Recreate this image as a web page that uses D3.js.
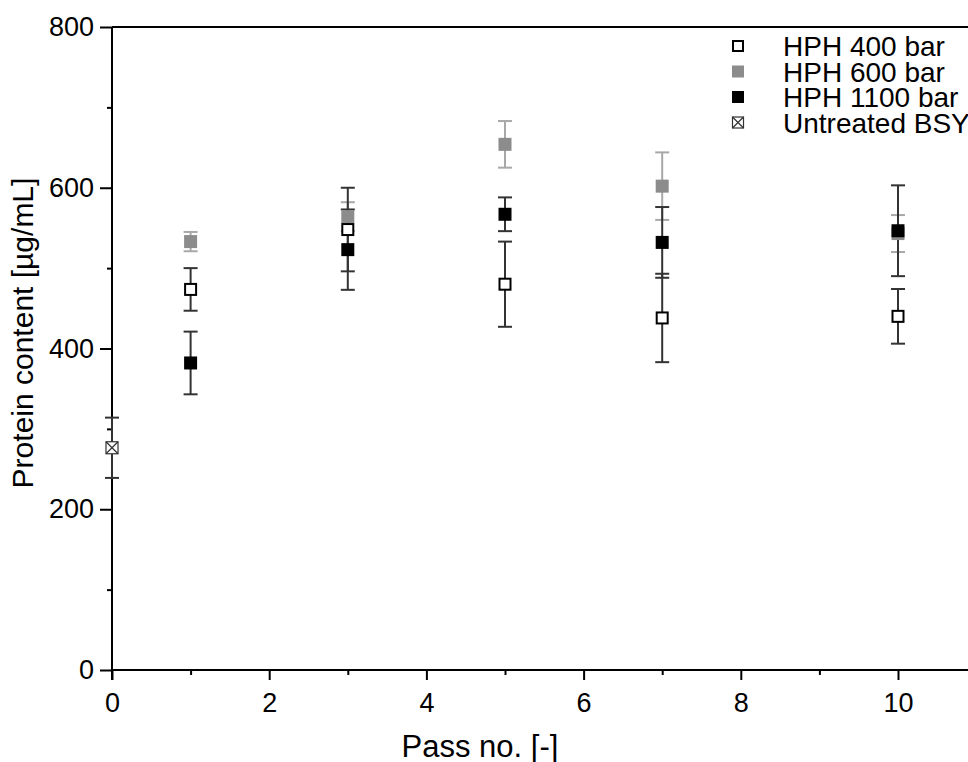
<!DOCTYPE html>
<html>
<head>
<meta charset="utf-8">
<script src="https://cdn.jsdelivr.net/npm/d3@7"></script>
<style>
  body { margin: 0; background: #fff; }
  text { font-family: "Liberation Sans", Arial, sans-serif; fill: #000; }
</style>
</head>
<body>
<div id="chart"></div>
<script>
// pass numbers and protein content (µg/mL), means and error
var passes = [1, 3, 5, 7, 10];
var hph400 = [473.5, 548, 480, 438, 440];
var err400 = [26.5, 52, 53, 55, 34];
var hph600 = [533, 564, 654, 602, 543];
var err600 = [12, 18, 29, 42, 23];
var hph1100 = [382, 523, 567, 532, 546.5];
var err1100 = [39, 50, 21, 44, 56.5];
var untreatedPass = [0];
var untreated = [276.5];
var errUntreated = [37.5];

var xTicks = [0, 2, 4, 6, 8, 10];
var yTicks = [0, 200, 400, 600, 800];
var legendLabels = ['HPH 400 bar', 'HPH 600 bar', 'HPH 1100 bar', 'Untreated BSY'];

var svg = d3.select('#chart').append('svg')
        .attr('width', 968)
        .attr('height', 762),
    margin = {top: 27, left: 112},
    height = 643;

var x = d3.scaleLinear().domain([0, 11]).range([margin.left, margin.left + 11 * 78.6]),
    y = d3.scaleLinear().domain([0, 800]).range([margin.top + height, margin.top]);

// top frame line
svg.append('line')
    .attr('x1', x(0)).attr('x2', 968)
    .attr('y1', y(800)).attr('y2', y(800))
    .attr('stroke', '#000').attr('stroke-width', 2);

// minor ticks
var xAxisMinor = d3.axisBottom(x).tickValues([1, 3, 5, 7, 9]).tickSize(5).tickFormat('');
var yAxisMinor = d3.axisLeft(y).tickValues([100, 300, 500, 700]).tickSize(5).tickFormat('');

svg.append('g')
    .attr('transform', 'translate(0,' + y(0) + ')')
    .call(xAxisMinor)
    .call(function(g) { g.select('.domain').remove(); })
    .selectAll('line').attr('stroke-width', 2);

svg.append('g')
    .attr('transform', 'translate(' + x(0) + ',0)')
    .call(yAxisMinor)
    .call(function(g) { g.select('.domain').remove(); })
    .selectAll('line').attr('stroke-width', 2);

var gx = svg.append('g')
    .attr('transform', 'translate(0,' + y(0) + ')')
    .call(d3.axisBottom(x).tickValues(xTicks).tickSize(10).tickSizeOuter(0).tickPadding(13));
gx.select('.domain').attr('d', 'M' + x(0) + ',0H968').attr('stroke-width', 2);
gx.selectAll('line').attr('stroke-width', 2);
gx.selectAll('text').attr('font-size', 27).style('font-family', '"Liberation Sans", Arial, sans-serif');

var gy = svg.append('g')
    .attr('transform', 'translate(' + x(0) + ',0)')
    .call(d3.axisLeft(y).tickValues(yTicks).tickSize(12).tickSizeOuter(0).tickPadding(6));
gy.select('.domain').attr('d', 'M0,' + y(800) + 'V' + (y(0) + 10)).attr('stroke-width', 2);
gy.selectAll('line').attr('stroke-width', 2);
gy.selectAll('text').attr('font-size', 27).style('font-family', '"Liberation Sans", Arial, sans-serif');

svg.append('text')
    .attr('x', 480).attr('y', 757)
    .attr('text-anchor', 'middle')
    .attr('font-size', 31)
    .text('Pass no. [-]');

svg.append('text')
    .attr('transform', 'translate(33,' + 333 + ') rotate(-90)')
    .attr('text-anchor', 'middle')
    .attr('font-size', 30)
    .text('Protein content [µg/mL]');

function rows(xs, ys, es) {
    return xs.map(function(d, i) { return {x: d, y: ys[i], e: es[i]}; });
}

var series = [
    {name: 'HPH 600 bar', data: rows(passes, hph600, err600), fill: '#8c8c8c', stroke: 'none', bar: '#a8a8a8'},
    {name: 'HPH 400 bar', data: rows(passes, hph400, err400), fill: '#fff', stroke: '#000', bar: '#333'},
    {name: 'HPH 1100 bar', data: rows(passes, hph1100, err1100), fill: '#000', stroke: 'none', bar: '#333'}
];

var cap = 7, size = 13;

// error bars first
series.concat([{name: 'untreated', data: rows(untreatedPass, untreated, errUntreated), bar: '#333'}])
    .forEach(function(s) {
        var g = svg.append('g').attr('stroke', s.bar).attr('stroke-width', 2);
        g.selectAll('.v').data(s.data).enter().append('line')
            .attr('x1', function(d) { return x(d.x); }).attr('x2', function(d) { return x(d.x); })
            .attr('y1', function(d) { return y(d.y + d.e); }).attr('y2', function(d) { return y(d.y - d.e); });
        g.selectAll('.t').data(s.data).enter().append('line')
            .attr('x1', function(d) { return x(d.x) - cap; }).attr('x2', function(d) { return x(d.x) + cap; })
            .attr('y1', function(d) { return y(d.y + d.e); }).attr('y2', function(d) { return y(d.y + d.e); });
        g.selectAll('.b').data(s.data).enter().append('line')
            .attr('x1', function(d) { return x(d.x) - cap; }).attr('x2', function(d) { return x(d.x) + cap; })
            .attr('y1', function(d) { return y(d.y - d.e); }).attr('y2', function(d) { return y(d.y - d.e); });
    });

series.forEach(function(s) {
    var inner = s.stroke === 'none' ? size : size - 2;
    svg.append('g').selectAll('rect')
        .data(s.data)
        .enter().append('rect')
        .attr('x', function(d) { return x(d.x) - inner / 2; })
        .attr('y', function(d) { return y(d.y) - inner / 2; })
        .attr('width', inner)
        .attr('height', inner)
        .attr('fill', s.fill)
        .attr('stroke', s.stroke)
        .attr('stroke-width', 2);
});

function crossBox(g, cx, cy, s) {
    g.append('rect').attr('x', cx - s / 2).attr('y', cy - s / 2)
        .attr('width', s).attr('height', s)
        .attr('fill', '#fff').attr('stroke', '#333').attr('stroke-width', 1.2);
    g.append('path')
        .attr('d', 'M' + (cx - s / 2) + ',' + (cy - s / 2) + 'L' + (cx + s / 2) + ',' + (cy + s / 2) +
            'M' + (cx + s / 2) + ',' + (cy - s / 2) + 'L' + (cx - s / 2) + ',' + (cy + s / 2))
        .attr('stroke', '#333').attr('stroke-width', 1.2);
}

var ug = svg.append('g');
untreated.forEach(function(v, i) { crossBox(ug, x(untreatedPass[i]), y(v), 12); });

// legend
var legend = svg.append('g');
var legendY = d3.scaleLinear().domain([0, 1]).range([46, 71.5]);
legendLabels.forEach(function(label, i) {
    var cy = legendY(i);
    if (i === 0) {
        legend.append('rect').attr('x', 738 - 5).attr('y', cy - 5).attr('width', 10).attr('height', 10)
            .attr('fill', '#fff').attr('stroke', '#000').attr('stroke-width', 2);
    } else if (i === 1 || i === 2) {
        legend.append('rect').attr('x', 738 - 6).attr('y', cy - 6).attr('width', 12).attr('height', 12)
            .attr('fill', i === 1 ? '#8c8c8c' : '#000');
    } else {
        crossBox(legend, 738, cy, 11);
    }
    legend.append('text')
        .attr('x', 783).attr('y', cy)
        .attr('dy', '0.36em')
        .attr('font-size', 28)
        .text(label);
});
</script>
</body>
</html>
